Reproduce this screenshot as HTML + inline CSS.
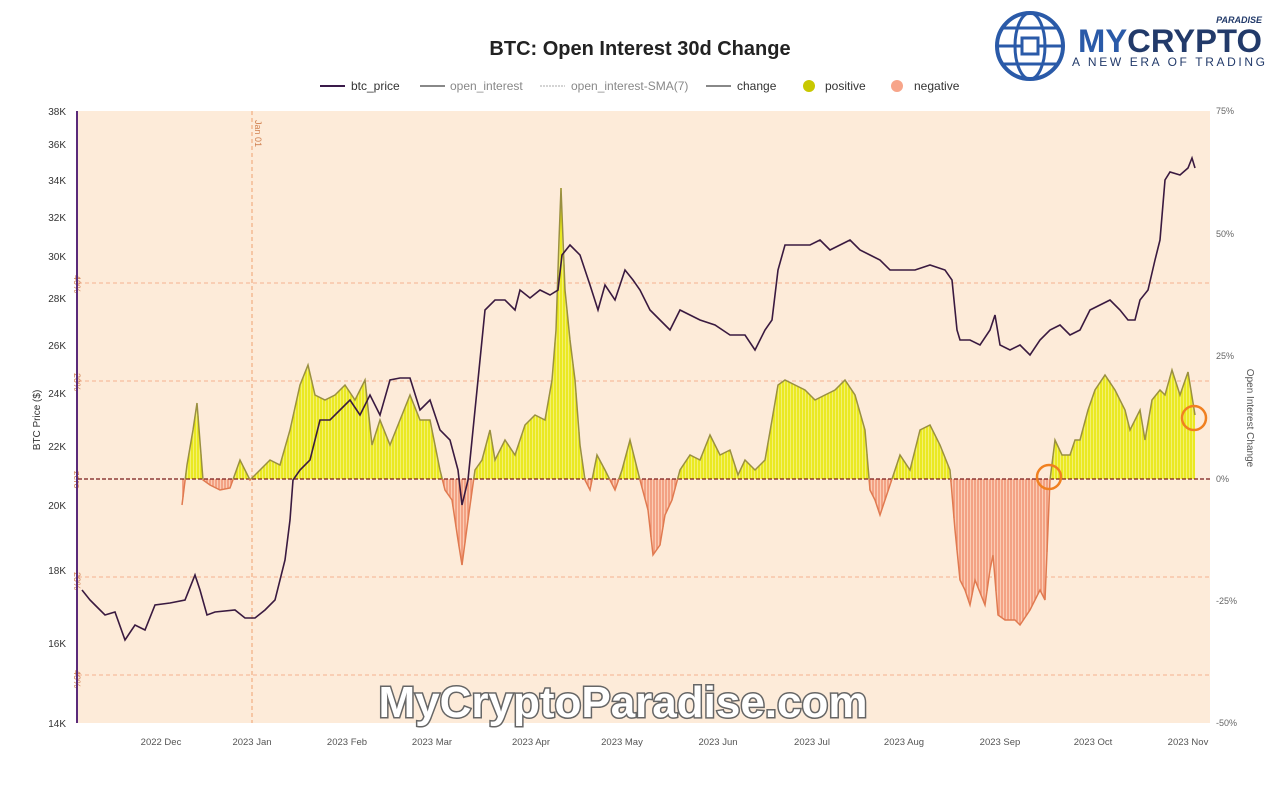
<!DOCTYPE html>
<html><head><meta charset="utf-8"><style>
body{margin:0;background:#fff;width:1280px;height:806px;overflow:hidden;font-family:"Liberation Sans",sans-serif}
svg{position:absolute;left:0;top:0}
</style></head><body>
<svg id="s" width="1280" height="806" xmlns="http://www.w3.org/2000/svg" font-family="Liberation Sans, sans-serif">
<rect x="78" y="111" width="1132" height="612" fill="#fdebd9"/>
<text x="640" y="55" text-anchor="middle" font-size="20" font-weight="bold" fill="#222">BTC: Open Interest 30d Change</text>
<g font-size="12" fill="#333">
<line x1="320" y1="86" x2="345" y2="86" stroke="#3a1a4a" stroke-width="2"/><text x="351" y="90">btc_price</text>
<line x1="420" y1="86" x2="445" y2="86" stroke="#888" stroke-width="2"/><text x="450" y="90" fill="#888">open_interest</text>
<line x1="540" y1="86" x2="565" y2="86" stroke="#aaa" stroke-width="1" stroke-dasharray="2,1"/><text x="571" y="90" fill="#888">open_interest-SMA(7)</text>
<line x1="706" y1="86" x2="731" y2="86" stroke="#888" stroke-width="2"/><text x="737" y="90">change</text>
<circle cx="809" cy="86" r="6" fill="#c8c800"/><text x="825" y="90">positive</text>
<circle cx="897" cy="86" r="6" fill="#f7a58a"/><text x="914" y="90">negative</text>
</g>
<g id="grid"></g>
<g id="bars"></g>
<g id="lines"></g>
<line x1="77" y1="111" x2="77" y2="723" stroke="#5a2a7a" stroke-width="2"/>
<g font-size="10" fill="#333" text-anchor="end" id="ly"></g>
<g font-size="9" fill="#666" id="ry"></g>
<g font-size="9.5" fill="#555" text-anchor="middle" id="xl"></g>
<text x="40" y="420" font-size="10" fill="#333" transform="rotate(-90 40 420)" text-anchor="middle">BTC Price ($)</text>
<text x="1247" y="418" font-size="10" fill="#555" transform="rotate(90 1247 418)" text-anchor="middle">Open Interest Change</text>
<text x="255" y="120" font-size="9" fill="#d08050" transform="rotate(90 255 120)">Jan 01</text>
<circle cx="1049" cy="477" r="12" fill="none" stroke="#f08020" stroke-width="2.5"/>
<circle cx="1194" cy="418" r="12" fill="none" stroke="#f08020" stroke-width="2.5"/>
<text x="623" y="717" text-anchor="middle" font-size="44" font-weight="bold" fill="#fff" stroke="#666" stroke-width="3" paint-order="stroke">MyCryptoParadise.com</text>
<g>
<circle cx="1030" cy="46" r="33" fill="none" stroke="#2a5aa8" stroke-width="4"/>
<ellipse cx="1030" cy="46" rx="15" ry="33" fill="none" stroke="#2a5aa8" stroke-width="3"/>
<line x1="997" y1="46" x2="1063" y2="46" stroke="#2a5aa8" stroke-width="3"/>
<line x1="1003" y1="28" x2="1057" y2="28" stroke="#2a5aa8" stroke-width="3"/>
<line x1="1003" y1="64" x2="1057" y2="64" stroke="#2a5aa8" stroke-width="3"/>
<rect x="1022" y="38" width="16" height="16" fill="#fff" stroke="#2a5aa8" stroke-width="3"/>
<text x="1078" y="52" font-size="32" font-weight="bold" fill="#2a5aa8" textLength="184" lengthAdjust="spacingAndGlyphs">MY<tspan fill="#223a6a">CRYPTO</tspan></text>
<text x="1262" y="23" font-size="9" font-weight="bold" font-style="italic" fill="#223a6a" text-anchor="end">PARADISE</text>
<text x="1072" y="66" font-size="12" fill="#223a6a" textLength="193" lengthAdjust="spacing">A NEW ERA OF TRADING</text>
</g>
</svg>
<script>
const NS="http://www.w3.org/2000/svg";
function el(p,t,a,txt){const e=document.createElementNS(NS,t);for(const k in a)e.setAttribute(k,a[k]);if(txt!=null)e.textContent=txt;document.getElementById(p).appendChild(e);return e;}
el("grid","line",{x1:252,y1:111,x2:252,y2:723,stroke:"#f0a070","stroke-dasharray":"4,3","stroke-width":1});
[[283,"40%"],[381,"20%"],[577,"-20%"],[675,"-40%"]].forEach(([y,t])=>{
el("grid","line",{x1:78,y1:y,x2:1210,y2:y,stroke:"#f5b090","stroke-dasharray":"4,3"});
el("grid","text",{x:84,y:y+2,"font-size":9,fill:"#d08050",transform:`rotate(90 84 ${y-8})`},t);});
el("grid","text",{x:84,y:481,"font-size":9,fill:"#d08050",transform:"rotate(90 84 471)"},"zero");
[[111,"38K"],[144,"36K"],[180,"34K"],[217,"32K"],[256,"30K"],[298,"28K"],[345,"26K"],[393,"24K"],[446,"22K"],[505,"20K"],[570,"18K"],[643,"16K"],[723,"14K"]].forEach(([y,t])=>el("ly","text",{x:66,y:y+4},t));
[[111,"75%"],[234,"50%"],[356,"25%"],[479,"0%"],[601,"-25%"],[723,"-50%"]].forEach(([y,t])=>el("ry","text",{x:1216,y:y+3},t));
[[161,"2022 Dec"],[252,"2023 Jan"],[347,"2023 Feb"],[432,"2023 Mar"],[531,"2023 Apr"],[622,"2023 May"],[718,"2023 Jun"],[812,"2023 Jul"],[904,"2023 Aug"],[1000,"2023 Sep"],[1093,"2023 Oct"],[1188,"2023 Nov"]].forEach(([x,t])=>el("xl","text",{x:x,y:745},t));
const price=[[82,590],[90,600],[95,605],[105,615],[115,612],[125,640],[135,625],[145,630],[155,605],[170,603],[185,600],[195,575],[200,590],[207,615],[215,612],[235,610],[245,618],[255,618],[265,610],[275,600],[285,560],[290,520],[293,480],[300,470],[310,460],[320,420],[330,420],[340,410],[350,400],[360,415],[370,395],[380,415],[390,380],[400,378],[410,378],[420,410],[430,400],[440,430],[450,440],[458,470],[462,505],[468,480],[472,440],[478,380],[485,310],[495,300],[505,300],[515,310],[520,290],[530,298],[540,290],[550,295],[558,290],[562,255],[570,245],[580,255],[590,285],[598,310],[605,285],[615,300],[625,270],[633,280],[640,290],[650,310],[660,320],[670,330],[680,310],[690,315],[700,320],[715,325],[730,335],[745,335],[755,350],[765,330],[772,320],[778,270],[785,245],[795,245],[810,245],[820,240],[830,250],[840,245],[850,240],[860,250],[870,255],[880,260],[890,270],[900,270],[915,270],[930,265],[945,270],[952,280],[957,330],[960,340],[970,340],[980,345],[990,330],[995,315],[1000,345],[1010,350],[1020,345],[1030,355],[1040,340],[1050,330],[1060,325],[1070,335],[1080,330],[1090,310],[1100,305],[1110,300],[1120,310],[1128,320],[1135,320],[1140,300],[1148,290],[1155,260],[1160,240],[1165,180],[1170,172],[1180,175],[1188,168],[1192,158],[1195,168]];
const ch=[[182,505],[187,465],[193,430],[197,403],[203,480],[210,485],[220,490],[230,488],[240,460],[250,480],[260,470],[270,460],[280,465],[290,430],[300,385],[308,365],[315,395],[325,400],[335,395],[345,385],[355,400],[365,380],[372,445],[380,420],[390,445],[400,420],[410,395],[420,420],[430,420],[440,470],[445,490],[452,500],[458,540],[462,565],[468,520],[475,470],[482,460],[490,430],[495,460],[505,440],[515,455],[525,425],[535,415],[545,420],[552,380],[556,330],[559,240],[561,188],[565,290],[570,340],[575,380],[580,445],[585,480],[590,490],[597,455],[605,470],[615,490],[622,470],[630,440],[635,460],[640,480],[648,510],[653,555],[660,545],[665,515],[672,500],[680,470],[690,455],[700,460],[710,435],[720,455],[730,450],[738,475],[745,460],[755,470],[765,460],[772,420],[778,385],[785,380],[795,385],[805,390],[815,400],[825,395],[835,390],[845,380],[855,395],[865,430],[870,490],[875,500],[880,515],[890,485],[900,455],[910,470],[920,430],[930,425],[940,445],[950,470],[955,530],[960,580],[965,590],[970,605],[975,580],[985,605],[990,570],[993,555],[998,615],[1005,620],[1015,620],[1020,625],[1030,610],[1040,590],[1045,600],[1050,480],[1055,440],[1062,455],[1070,455],[1075,440],[1080,440],[1088,410],[1095,390],[1105,375],[1115,390],[1125,410],[1130,430],[1140,410],[1145,440],[1152,400],[1160,390],[1165,395],[1172,370],[1180,395],[1188,372],[1195,415]];
function interp(a,x){for(let i=1;i<a.length;i++){if(x<=a[i][0]){const[x0,y0]=a[i-1],[x1,y1]=a[i];return y0+(y1-y0)*(x-x0)/(x1-x0);}}return a[a.length-1][1];}
const Z=479;
let pts=ch.map(p=>p.join(",")).join(" ");
const poly=`${ch[0][0]},${Z} ${pts} ${ch[ch.length-1][0]},${Z}`;
el("bars","clipPath",{id:"cp"});el("cp","rect",{x:0,y:0,width:1280,height:Z});
el("bars","clipPath",{id:"cn"});el("cn","rect",{x:0,y:Z,width:1280,height:400});
el("bars","polygon",{points:poly,fill:"#f4f070","clip-path":"url(#cp)"});
el("bars","polygon",{points:poly,fill:"#fbcdb5","clip-path":"url(#cn)"});
for(let x=183;x<=1195;x+=3){const y=interp(ch,x);el("bars","line",{x1:x,y1:Z,x2:x,y2:y,stroke:y<Z?"#e6e600":"#f09070","stroke-width":1.4});}
el("lines","line",{x1:78,y1:Z,x2:1210,y2:Z,stroke:"#7a1a1a","stroke-dasharray":"4,2","stroke-width":1.2});
el("lines","polyline",{points:pts,fill:"none",stroke:"#9a9040","stroke-width":1.5,"clip-path":"url(#cp)"});
el("lines","polyline",{points:pts,fill:"none",stroke:"#e07a50","stroke-width":1.5,"clip-path":"url(#cn)"});
el("lines","polyline",{points:price.map(p=>p.join(",")).join(" "),fill:"none",stroke:"#3a1a40","stroke-width":1.6});
</script>
</body></html>
